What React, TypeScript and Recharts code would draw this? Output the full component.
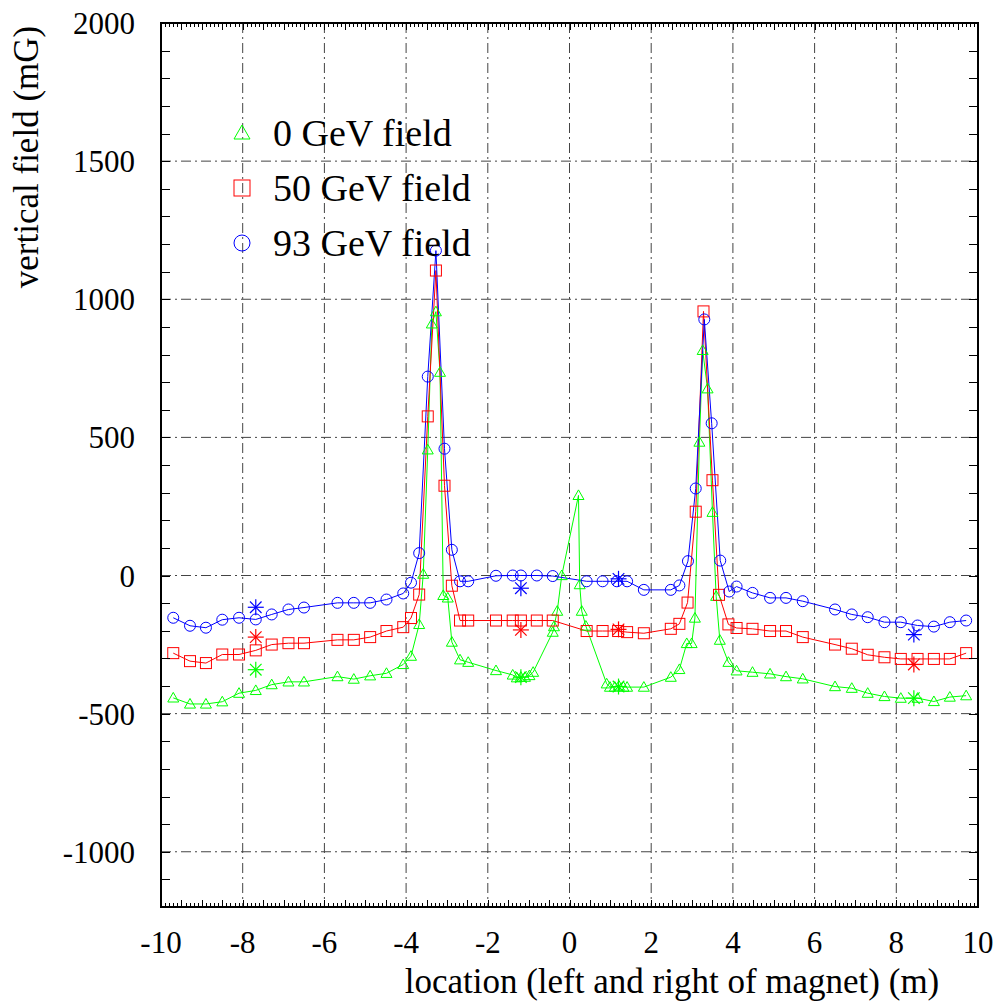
import React from 'react';
import { ComposedChart, Line, Scatter, XAxis, YAxis, CartesianGrid, Legend } from 'recharts';

const FONT = '"Liberation Serif", "Times New Roman", Times, serif';

// layout
const CHART_W = 1000;
const CHART_H = 1002;
const M_TOP = 23;
const M_RIGHT = 22;
const Y_AXIS_W = 161;
const X_AXIS_H = 95;

const X_DOMAIN = [-10, 10];
const Y_DOMAIN = [-1200, 2000];

// x tick labels (m) and y tick labels (mG)
const xTicks = [-10, -8, -6, -4, -2, 0, 2, 4, 6, 8, 10];
const yTicks = [-1000, -500, 0, 500, 1000, 1500, 2000];

// minor tick marks on the frame (every 0.1 m and every 100 mG)
const xMinor = Array.from({ length: 199 }, (_, i) => Math.round((-9.9 + i * 0.1) * 10) / 10);
const yMinor = Array.from({ length: 31 }, (_, i) => -1100 + i * 100);

// 0 GeV field
const field0 = [
  { x: -9.7, y: -443 }, { x: -9.29, y: -465 }, { x: -8.9, y: -465 }, { x: -8.5, y: -457 },
  { x: -8.09, y: -426 }, { x: -7.68, y: -416 }, { x: -7.29, y: -395 }, { x: -6.88, y: -385 },
  { x: -6.5, y: -385 }, { x: -5.68, y: -366 }, { x: -5.28, y: -375 }, { x: -4.88, y: -363 },
  { x: -4.48, y: -354 }, { x: -4.07, y: -322 }, { x: -3.88, y: -292 }, { x: -3.68, y: -177 },
  { x: -3.58, y: 5 }, { x: -3.47, y: 455 }, { x: -3.37, y: 911 }, { x: -3.27, y: 955 },
  { x: -3.17, y: 736 }, { x: -3.09, y: -72 }, { x: -2.98, y: -81 }, { x: -2.88, y: -241 },
  { x: -2.68, y: -305 }, { x: -2.48, y: -314 }, { x: -1.8, y: -344 }, { x: -1.39, y: -360 },
  { x: -1.29, y: -370 }, { x: -1.19, y: -368 }, { x: -1.09, y: -368 }, { x: -0.98, y: -362 },
  { x: -0.89, y: -350 }, { x: -0.41, y: -205 }, { x: -0.38, y: -185 }, { x: -0.3, y: -129 },
  { x: -0.19, y: 0 }, { x: 0.22, y: 290 }, { x: 0.25, y: -33 }, { x: 0.3, y: -129 },
  { x: 0.4, y: -183 }, { x: 0.91, y: -392 }, { x: 0.99, y: -404 }, { x: 1.11, y: -404 },
  { x: 1.21, y: -400 }, { x: 1.32, y: -404 }, { x: 1.41, y: -404 }, { x: 1.82, y: -404 },
  { x: 2.48, y: -368 }, { x: 2.69, y: -340 }, { x: 2.87, y: -246 }, { x: 2.99, y: -246 },
  { x: 3.07, y: -154 }, { x: 3.18, y: 483 }, { x: 3.26, y: 815 }, { x: 3.38, y: 676 },
  { x: 3.5, y: 229 }, { x: 3.59, y: -75 }, { x: 3.68, y: -234 }, { x: 3.89, y: -314 },
  { x: 4.09, y: -345 }, { x: 4.48, y: -350 }, { x: 4.91, y: -356 }, { x: 5.3, y: -366 },
  { x: 5.71, y: -374 }, { x: 6.5, y: -402 }, { x: 6.91, y: -408 }, { x: 7.3, y: -426 },
  { x: 7.71, y: -438 }, { x: 8.11, y: -444 }, { x: 8.52, y: -444 }, { x: 8.92, y: -456 },
  { x: 9.31, y: -440 }, { x: 9.71, y: -435 },
];

// 50 GeV field
const field50 = [
  { x: -9.7, y: -281 }, { x: -9.29, y: -310 }, { x: -8.9, y: -317 }, { x: -8.5, y: -286 },
  { x: -8.09, y: -286 }, { x: -7.68, y: -271 }, { x: -7.29, y: -250 }, { x: -6.88, y: -245 },
  { x: -6.5, y: -245 }, { x: -5.68, y: -233 }, { x: -5.28, y: -233 }, { x: -4.88, y: -223 },
  { x: -4.48, y: -201 }, { x: -4.07, y: -187 }, { x: -3.88, y: -154 }, { x: -3.68, y: -69 },
  { x: -3.47, y: 576 }, { x: -3.27, y: 1104 }, { x: -3.06, y: 325 }, { x: -2.88, y: -37 },
  { x: -2.68, y: -163 }, { x: -2.48, y: -163 }, { x: -1.8, y: -163 }, { x: -1.39, y: -163 },
  { x: -1.19, y: -163 }, { x: -0.8, y: -163 }, { x: -0.41, y: -163 }, { x: 0.42, y: -201 },
  { x: 0.81, y: -201 }, { x: 1.19, y: -201 }, { x: 1.41, y: -205 }, { x: 1.82, y: -209 },
  { x: 2.48, y: -193 }, { x: 2.69, y: -175 }, { x: 2.89, y: -98 }, { x: 3.09, y: 231 },
  { x: 3.28, y: 956 }, { x: 3.5, y: 345 }, { x: 3.66, y: -70 }, { x: 3.89, y: -177 },
  { x: 4.09, y: -190 }, { x: 4.48, y: -193 }, { x: 4.91, y: -201 }, { x: 5.3, y: -201 },
  { x: 5.71, y: -223 }, { x: 6.5, y: -250 }, { x: 6.91, y: -265 }, { x: 7.3, y: -287 },
  { x: 7.71, y: -296 }, { x: 8.11, y: -302 }, { x: 8.52, y: -302 }, { x: 8.92, y: -302 },
  { x: 9.31, y: -302 }, { x: 9.71, y: -281 },
];

// 93 GeV field
const field93 = [
  { x: -9.7, y: -153 }, { x: -9.29, y: -182 }, { x: -8.9, y: -189 }, { x: -8.5, y: -160 },
  { x: -8.09, y: -153 }, { x: -7.68, y: -159 }, { x: -7.29, y: -141 }, { x: -6.88, y: -123 },
  { x: -6.5, y: -116 }, { x: -5.68, y: -99 }, { x: -5.28, y: -99 }, { x: -4.88, y: -99 },
  { x: -4.48, y: -87 }, { x: -4.07, y: -65 }, { x: -3.88, y: -26 }, { x: -3.68, y: 81 },
  { x: -3.47, y: 720 }, { x: -3.27, y: 1176 }, { x: -3.06, y: 459 }, { x: -2.88, y: 93 },
  { x: -2.68, y: -21 }, { x: -2.48, y: -21 }, { x: -1.8, y: -1 }, { x: -1.39, y: 0 },
  { x: -1.19, y: 0 }, { x: -0.8, y: 0 }, { x: -0.41, y: -2 }, { x: 0.42, y: -21 },
  { x: 0.81, y: -21 }, { x: 1.16, y: -21 }, { x: 1.41, y: -21 }, { x: 1.82, y: -52 },
  { x: 2.48, y: -52 }, { x: 2.69, y: -36 }, { x: 2.9, y: 52 }, { x: 3.09, y: 315 },
  { x: 3.3, y: 927 }, { x: 3.48, y: 551 }, { x: 3.69, y: 54 }, { x: 3.91, y: -58 },
  { x: 4.09, y: -40 }, { x: 4.48, y: -63 }, { x: 4.91, y: -81 }, { x: 5.3, y: -81 },
  { x: 5.71, y: -93 }, { x: 6.5, y: -123 }, { x: 6.91, y: -141 }, { x: 7.3, y: -151 },
  { x: 7.71, y: -169 }, { x: 8.11, y: -169 }, { x: 8.52, y: -181 }, { x: 8.92, y: -185 },
  { x: 9.31, y: -169 }, { x: 9.71, y: -163 },
];

// separate measurements drawn as asterisks
const stars0 = [{ x: -7.68, y: -341 }, { x: -1.19, y: -368 }, { x: 1.2, y: -402 }, { x: 8.43, y: -444 }];
const stars50 = [{ x: -7.68, y: -223 }, { x: -1.19, y: -197 }, { x: 1.2, y: -195 }, { x: 8.43, y: -322 }];
const stars93 = [{ x: -7.68, y: -115 }, { x: -1.19, y: -46 }, { x: 1.2, y: -12 }, { x: 8.43, y: -214 }];

const GREEN = '#00ff00';
const RED = '#ff0000';
const BLUE = '#0000ff';

const legendItems = [
  { label: '0 GeV field', color: GREEN, marker: 'triangle' },
  { label: '50 GeV field', color: RED, marker: 'square' },
  { label: '93 GeV field', color: BLUE, marker: 'circle' },
];

function Marker({ kind, cx, cy, size, color }: { kind: string; cx: number; cy: number; size: number; color: string }) {
  const h = size / 2;
  if (kind === 'triangle') {
    return (
      <polygon
        points={`${cx},${cy - h} ${cx - h},${cy + h * 0.75} ${cx + h},${cy + h * 0.75}`}
        fill="none"
        stroke={color}
        strokeWidth={1}
      />
    );
  }
  if (kind === 'square') {
    return <rect x={cx - h} y={cy - h} width={size} height={size} fill="none" stroke={color} strokeWidth={1} />;
  }
  return <circle cx={cx} cy={cy} r={h} fill="none" stroke={color} strokeWidth={1} />;
}

const dotFor = (kind: string, color: string) => (props: any) => {
  const { cx, cy, index } = props;
  if (cx == null || cy == null) return <g key={index} />;
  return <Marker key={index} kind={kind} cx={cx} cy={cy} size={11} color={color} />;
};

const starFor = (color: string) => (props: any) => {
  const { cx, cy } = props;
  const r = 8;
  const d = r * 0.72;
  return (
    <g stroke={color} strokeWidth={1.2}>
      <line x1={cx - r} y1={cy} x2={cx + r} y2={cy} />
      <line x1={cx} y1={cy - r} x2={cx} y2={cy + r} />
      <line x1={cx - d} y1={cy - d} x2={cx + d} y2={cy + d} />
      <line x1={cx - d} y1={cy + d} x2={cx + d} y2={cy - d} />
    </g>
  );
};

// frame with the small inward tick marks (gnuplot style), drawn as an overlay
function FrameOverlay() {
  const left = Y_AXIS_W;
  const right = CHART_W - M_RIGHT;
  const top = M_TOP;
  const bottom = CHART_H - X_AXIS_H;
  const sx = (v: number) => Math.round(left + ((v - X_DOMAIN[0]) / (X_DOMAIN[1] - X_DOMAIN[0])) * (right - left)) + 0.5;
  const sy = (v: number) => Math.round(bottom - ((v - Y_DOMAIN[0]) / (Y_DOMAIN[1] - Y_DOMAIN[0])) * (bottom - top)) + 0.5;
  const xLen = (v: number) => (Math.abs(v * 2 - Math.round(v * 2)) < 1e-6 ? 7 : 4);
  return (
    <svg
      width={CHART_W}
      height={CHART_H}
      style={{ position: 'absolute', left: 0, top: 0, pointerEvents: 'none' }}
    >
      <g stroke="#000" strokeWidth={1}>
        {xMinor.map((v) => (
          <g key={`x${v}`}>
            <line x1={sx(v)} x2={sx(v)} y1={bottom} y2={bottom - xLen(v)} />
            <line x1={sx(v)} x2={sx(v)} y1={top} y2={top + xLen(v)} />
          </g>
        ))}
        {yMinor.map((v) => (
          <g key={`y${v}`}>
            <line x1={left} x2={left + 9} y1={sy(v)} y2={sy(v)} />
            <line x1={right} x2={right - 9} y1={sy(v)} y2={sy(v)} />
          </g>
        ))}
        <rect x={left} y={top} width={right - left} height={bottom - top} fill="none" strokeWidth={2} />
      </g>
    </svg>
  );
}

const renderLegend = () => (
  <svg width={340} height={180}>
    {legendItems.map((item, i) => (
      <g key={item.label}>
        <Marker kind={item.marker} cx={42} cy={33 + i * 55} size={16} color={item.color} />
        <text x={73} y={46 + i * 55} fontSize={38} fontFamily={FONT} fill="#000">
          {item.label}
        </text>
      </g>
    ))}
  </svg>
);

export default function App() {
  const tickStyle = { fontSize: 31, fill: '#000', fontFamily: FONT };
  return (
    <div style={{ position: 'absolute', left: 0, top: 0, width: CHART_W, height: CHART_H, background: '#fff' }}>
      <ComposedChart width={CHART_W} height={CHART_H} margin={{ top: M_TOP, right: M_RIGHT, left: 0, bottom: 0 }}>
        <CartesianGrid stroke="#444" strokeDasharray="10 4 2 4" strokeWidth={1} />
        <XAxis
          type="number"
          dataKey="x"
          domain={X_DOMAIN}
          ticks={xTicks}
          interval={0}
          allowDataOverflow
          height={X_AXIS_H}
          tickLine={false}
          tickMargin={18}
          axisLine={{ stroke: '#000', strokeWidth: 2 }}
          tick={tickStyle}
          label={() => (
            <text x={672} y={993} textAnchor="middle" fontSize={35} fontFamily={FONT} fill="#000">
              location (left and right of magnet) (m)
            </text>
          )}
        />
        <YAxis
          type="number"
          dataKey="y"
          domain={Y_DOMAIN}
          ticks={yTicks}
          interval={0}
          allowDataOverflow
          width={Y_AXIS_W}
          tickLine={false}
          tickMargin={20}
          axisLine={{ stroke: '#000', strokeWidth: 2 }}
          tick={tickStyle}
          label={() => (
            <text
              transform="translate(38,157) rotate(-90)"
              x={0}
              y={0}
              textAnchor="middle"
              fontSize={35}
              fontFamily={FONT}
              fill="#000"
            >
              vertical field (mG)
            </text>
          )}
        />
        <Legend
          layout="vertical"
          align="center"
          verticalAlign="middle"
          content={renderLegend}
          wrapperStyle={{ left: 200, top: 100, width: 340, height: 180 }}
        />
        <Line
          data={field0}
          dataKey="y"
          name="0 GeV field"
          stroke={GREEN}
          strokeWidth={1}
          dot={dotFor('triangle', GREEN)}
          isAnimationActive={false}
        />
        <Line
          data={field50}
          dataKey="y"
          name="50 GeV field"
          stroke={RED}
          strokeWidth={1}
          dot={dotFor('square', RED)}
          isAnimationActive={false}
        />
        <Line
          data={field93}
          dataKey="y"
          name="93 GeV field"
          stroke={BLUE}
          strokeWidth={1}
          dot={dotFor('circle', BLUE)}
          isAnimationActive={false}
        />
        <Scatter data={stars0} dataKey="y" shape={starFor(GREEN)} isAnimationActive={false} legendType="none" />
        <Scatter data={stars50} dataKey="y" shape={starFor(RED)} isAnimationActive={false} legendType="none" />
        <Scatter data={stars93} dataKey="y" shape={starFor(BLUE)} isAnimationActive={false} legendType="none" />
      </ComposedChart>
      <FrameOverlay />
    </div>
  );
}
